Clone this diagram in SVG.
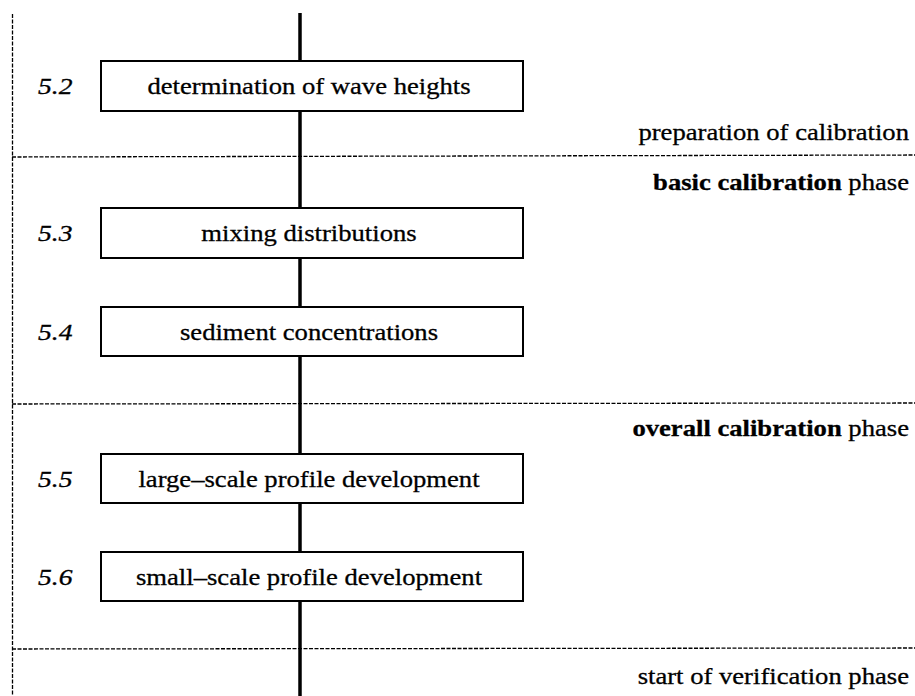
<svg xmlns="http://www.w3.org/2000/svg" width="915" height="696" viewBox="0 0 915 696">
  <style>
    .bg { fill: #ffffff; }
    .spine { stroke: #000; stroke-width: 3.5; fill: none; }
    .sep { stroke: #000; stroke-width: 1.3; stroke-dasharray: 4 1.5; fill: none; }
    .box { fill: #ffffff; stroke: #000; stroke-width: 2; }
    text { font-family: 'Liberation Serif', 'DejaVu Serif', serif; font-size: 24px; fill: #000; stroke: #000; stroke-width: 0.3; }
    .label { text-anchor: middle; }
    .num { font-style: italic; }
    .phase { text-anchor: end; }
    .b { font-weight: bold; }
  </style>
  <rect class="bg" x="0" y="0" width="915" height="696"/>

  <g id="connectors">
    <line class="spine" x1="300" y1="13" x2="300" y2="696"/>
    <line class="sep" x1="12.5" y1="14" x2="12.5" y2="696"/>
    <line class="sep" x1="12" y1="157" x2="915" y2="155"/>
    <line class="sep" x1="12" y1="404" x2="915" y2="403"/>
    <line class="sep" x1="12" y1="649" x2="915" y2="648"/>
  </g>

  <!-- type is set slightly wide: scale(1.11, 1) on every text -->
  <g id="phase-labels">
    <text class="phase" transform="translate(909 140) scale(1.11 1)">preparation of calibration</text>
    <text class="phase" transform="translate(909 190) scale(1.11 1)"><tspan class="b">basic calibration</tspan> phase</text>
    <text class="phase" transform="translate(909 436) scale(1.11 1)"><tspan class="b">overall calibration</tspan> phase</text>
    <text class="phase" transform="translate(909 684) scale(1.11 1)">start of verification phase</text>
  </g>

  <g id="step-5-2">
    <rect class="box" x="101" y="61" width="422" height="50"/>
    <text class="label" transform="translate(309 94) scale(1.11 1)">determination of wave heights</text>
    <text class="num" transform="translate(38 94) scale(1.15 1)">5.2</text>
  </g>

  <g id="step-5-3">
    <rect class="box" x="101" y="208" width="422" height="50"/>
    <text class="label" transform="translate(309 241) scale(1.11 1)">mixing distributions</text>
    <text class="num" transform="translate(38 241) scale(1.15 1)">5.3</text>
  </g>

  <g id="step-5-4">
    <rect class="box" x="101" y="307" width="422" height="49"/>
    <text class="label" transform="translate(309 340) scale(1.11 1)">sediment concentrations</text>
    <text class="num" transform="translate(38 340) scale(1.15 1)">5.4</text>
  </g>

  <g id="step-5-5">
    <rect class="box" x="101" y="454" width="422" height="49"/>
    <text class="label" transform="translate(309 487) scale(1.11 1)">large–scale profile development</text>
    <text class="num" transform="translate(38 487) scale(1.15 1)">5.5</text>
  </g>

  <g id="step-5-6">
    <rect class="box" x="101" y="552" width="422" height="49"/>
    <text class="label" transform="translate(309 585) scale(1.11 1)">small–scale profile development</text>
    <text class="num" transform="translate(38 585) scale(1.15 1)">5.6</text>
  </g>
</svg>
